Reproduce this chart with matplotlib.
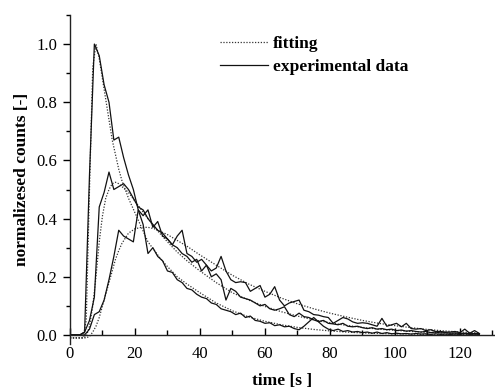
import numpy as np
import matplotlib.pyplot as plt
from matplotlib.ticker import MultipleLocator, FormatStrFormatter

plt.rcParams['font.family'] = ['Liberation Serif', 'DejaVu Serif']

# experimental data, sampled every 1.5 s
t_exp = np.arange(0, 127.5, 1.5)
exp_a = [0.0, 0.0, 0.0, 0.01, 0.55, 1.0, 0.96, 0.86, 0.80, 0.67,
         0.68, 0.61, 0.55, 0.50, 0.43, 0.38, 0.28, 0.30, 0.27, 0.255,
         0.22, 0.215, 0.19, 0.18, 0.16, 0.155, 0.14, 0.13, 0.125, 0.11,
         0.105, 0.09, 0.085, 0.08, 0.07, 0.075, 0.06, 0.065, 0.05, 0.047,
         0.04, 0.042, 0.032, 0.035, 0.028, 0.03, 0.022, 0.018, 0.03, 0.045,
         0.06, 0.045, 0.03, 0.02, 0.015, 0.02, 0.012, 0.015, 0.01, 0.012,
         0.008, 0.01, 0.006, 0.01, 0.005, 0.008, 0.004, 0.006, 0.004, 0.005,
         0.003, 0.005, 0.003, 0.004, 0.002, 0.004, 0.002, 0.003, 0.002, 0.003,
         0.002, 0.004, 0.002, 0.003, 0.002]
exp_b = [0.0, 0.0, 0.0, 0.01, 0.05, 0.13, 0.44, 0.49, 0.56, 0.50,
         0.51, 0.52, 0.50, 0.47, 0.44, 0.43, 0.40, 0.38, 0.36, 0.35,
         0.33, 0.31, 0.30, 0.28, 0.27, 0.25, 0.26, 0.22, 0.24, 0.20,
         0.21, 0.19, 0.12, 0.16, 0.15, 0.13, 0.125, 0.12, 0.11, 0.10,
         0.105, 0.09, 0.085, 0.09, 0.097, 0.07, 0.063, 0.075, 0.063, 0.06,
         0.052, 0.046, 0.05, 0.04, 0.038, 0.035, 0.04, 0.03, 0.028, 0.03,
         0.025, 0.022, 0.025, 0.02, 0.022, 0.018, 0.02, 0.015, 0.017, 0.013,
         0.015, 0.012, 0.01, 0.012, 0.008, 0.01, 0.007, 0.008, 0.006, 0.007,
         0.005, 0.006, 0.004, 0.005, 0.004]
exp_c = [0.0, 0.0, 0.0, 0.0, 0.02, 0.07, 0.08, 0.12, 0.19, 0.27,
         0.36, 0.34, 0.33, 0.32, 0.43, 0.41, 0.43, 0.37, 0.39, 0.34,
         0.33, 0.31, 0.34, 0.36, 0.28, 0.27, 0.25, 0.26, 0.24, 0.22,
         0.23, 0.27, 0.22, 0.19, 0.18, 0.183, 0.18, 0.15, 0.16, 0.17,
         0.13, 0.14, 0.166, 0.12, 0.10, 0.11, 0.115, 0.12, 0.085, 0.08,
         0.07, 0.068, 0.063, 0.06, 0.04, 0.05, 0.06, 0.055, 0.045, 0.04,
         0.042, 0.04, 0.035, 0.03, 0.057, 0.03, 0.035, 0.04, 0.028, 0.04,
         0.022, 0.02, 0.022, 0.015, 0.018, 0.012, 0.012, 0.01, 0.01, 0.012,
         0.008, 0.02, 0.006, 0.015, 0.005]

# fitted curves
t_fit = [0, 2, 4, 5, 6, 7, 8, 9, 10, 11,
         12, 13, 14, 15, 16, 18, 20, 22, 24, 26,
         28, 30, 33, 36, 40, 45, 50, 55, 60, 65,
         70, 75, 80, 85, 90, 95, 100, 105, 110, 115,
         120, 126]
fit_a = [-0.01, -0.01, -0.01, 0.05, 0.5, 0.92, 1.0, 0.95, 0.88, 0.81,
         0.74, 0.67, 0.62, 0.57, 0.53, 0.47, 0.42, 0.37, 0.32, 0.29,
         0.26, 0.235, 0.2, 0.175, 0.145, 0.11, 0.083, 0.062, 0.047, 0.035,
         0.026, 0.019, 0.014, 0.01, 0.007, 0.005, 0.004, 0.003, 0.002, 0.001,
         0.001, 0.001]
fit_b = [-0.01, -0.01, -0.01, -0.005, 0.03, 0.10, 0.2, 0.32, 0.41, 0.47,
         0.50, 0.52, 0.525, 0.52, 0.51, 0.49, 0.46, 0.43, 0.40, 0.37,
         0.345, 0.32, 0.285, 0.255, 0.22, 0.18, 0.145, 0.12, 0.098, 0.08,
         0.065, 0.052, 0.042, 0.033, 0.026, 0.02, 0.016, 0.012, 0.009, 0.007,
         0.005, 0.004]
fit_c = [-0.01, -0.01, -0.01, -0.01, -0.005, 0.01, 0.03, 0.06, 0.1, 0.14,
         0.18, 0.22, 0.26, 0.29, 0.315, 0.35, 0.365, 0.37, 0.37, 0.365,
         0.355, 0.345, 0.325, 0.305, 0.275, 0.24, 0.205, 0.175, 0.15, 0.127,
         0.107, 0.09, 0.075, 0.062, 0.05, 0.04, 0.032, 0.025, 0.019, 0.014,
         0.01, 0.007]

fig = plt.figure(figsize=(4.95, 3.91), dpi=100)
ax = fig.add_axes([0.1414, 0.121, 0.8586, 0.8407])

dot = (0, (1, 1.3))
for i, f in enumerate([fit_a, fit_b, fit_c]):
    ax.plot(t_fit, f, color='#333333', lw=0.9, ls=dot,
            label='fitting' if i == 0 else None)
for i, e in enumerate([exp_a, exp_b, exp_c]):
    ax.plot(t_exp, e, color='#111111', lw=0.9,
            label='experimental data' if i == 0 else None)

ax.set_xlim(0, 130.8)
ax.set_ylim(-0.03, 1.10)
ax.spines['top'].set_visible(False)
ax.spines['right'].set_visible(False)
ax.spines['bottom'].set_position(('data', 0))
for s in ['left', 'bottom']:
    ax.spines[s].set_linewidth(1.0)
    ax.spines[s].set_color('#222222')

ax.xaxis.set_major_locator(MultipleLocator(20))
ax.xaxis.set_minor_locator(MultipleLocator(10))
ax.yaxis.set_major_locator(MultipleLocator(0.2))
ax.yaxis.set_minor_locator(MultipleLocator(0.1))
ax.yaxis.set_major_formatter(FormatStrFormatter('%.1f'))
ax.set_yticks([0.0, 0.2, 0.4, 0.6, 0.8, 1.0])
ax.tick_params(axis='x', which='major', direction='in', length=5, width=1, labelsize=12, pad=8)
ax.tick_params(axis='x', which='minor', direction='in', length=3.5, width=1)
ax.tick_params(axis='y', which='major', direction='out', length=5, width=1, labelsize=12, pad=4)
ax.tick_params(axis='y', which='minor', direction='out', length=3, width=1)

ax.set_xlabel('time [s ]', fontsize=12.5, fontweight='bold')
ax.set_ylabel('normalizesed counts [-]', fontsize=12.5, fontweight='bold')
ax.xaxis.set_label_coords(0.5, -0.088)
ax.yaxis.set_label_coords(-0.095, 0.5)

ax.legend(loc='upper left', bbox_to_anchor=(0.353, 0.936), frameon=False,
          prop={'weight': 'bold', 'size': 12.5}, handlelength=2.76,
          handletextpad=0.3, labelspacing=0.4, borderpad=0, borderaxespad=0)

fig.savefig('out.png', dpi=100)
